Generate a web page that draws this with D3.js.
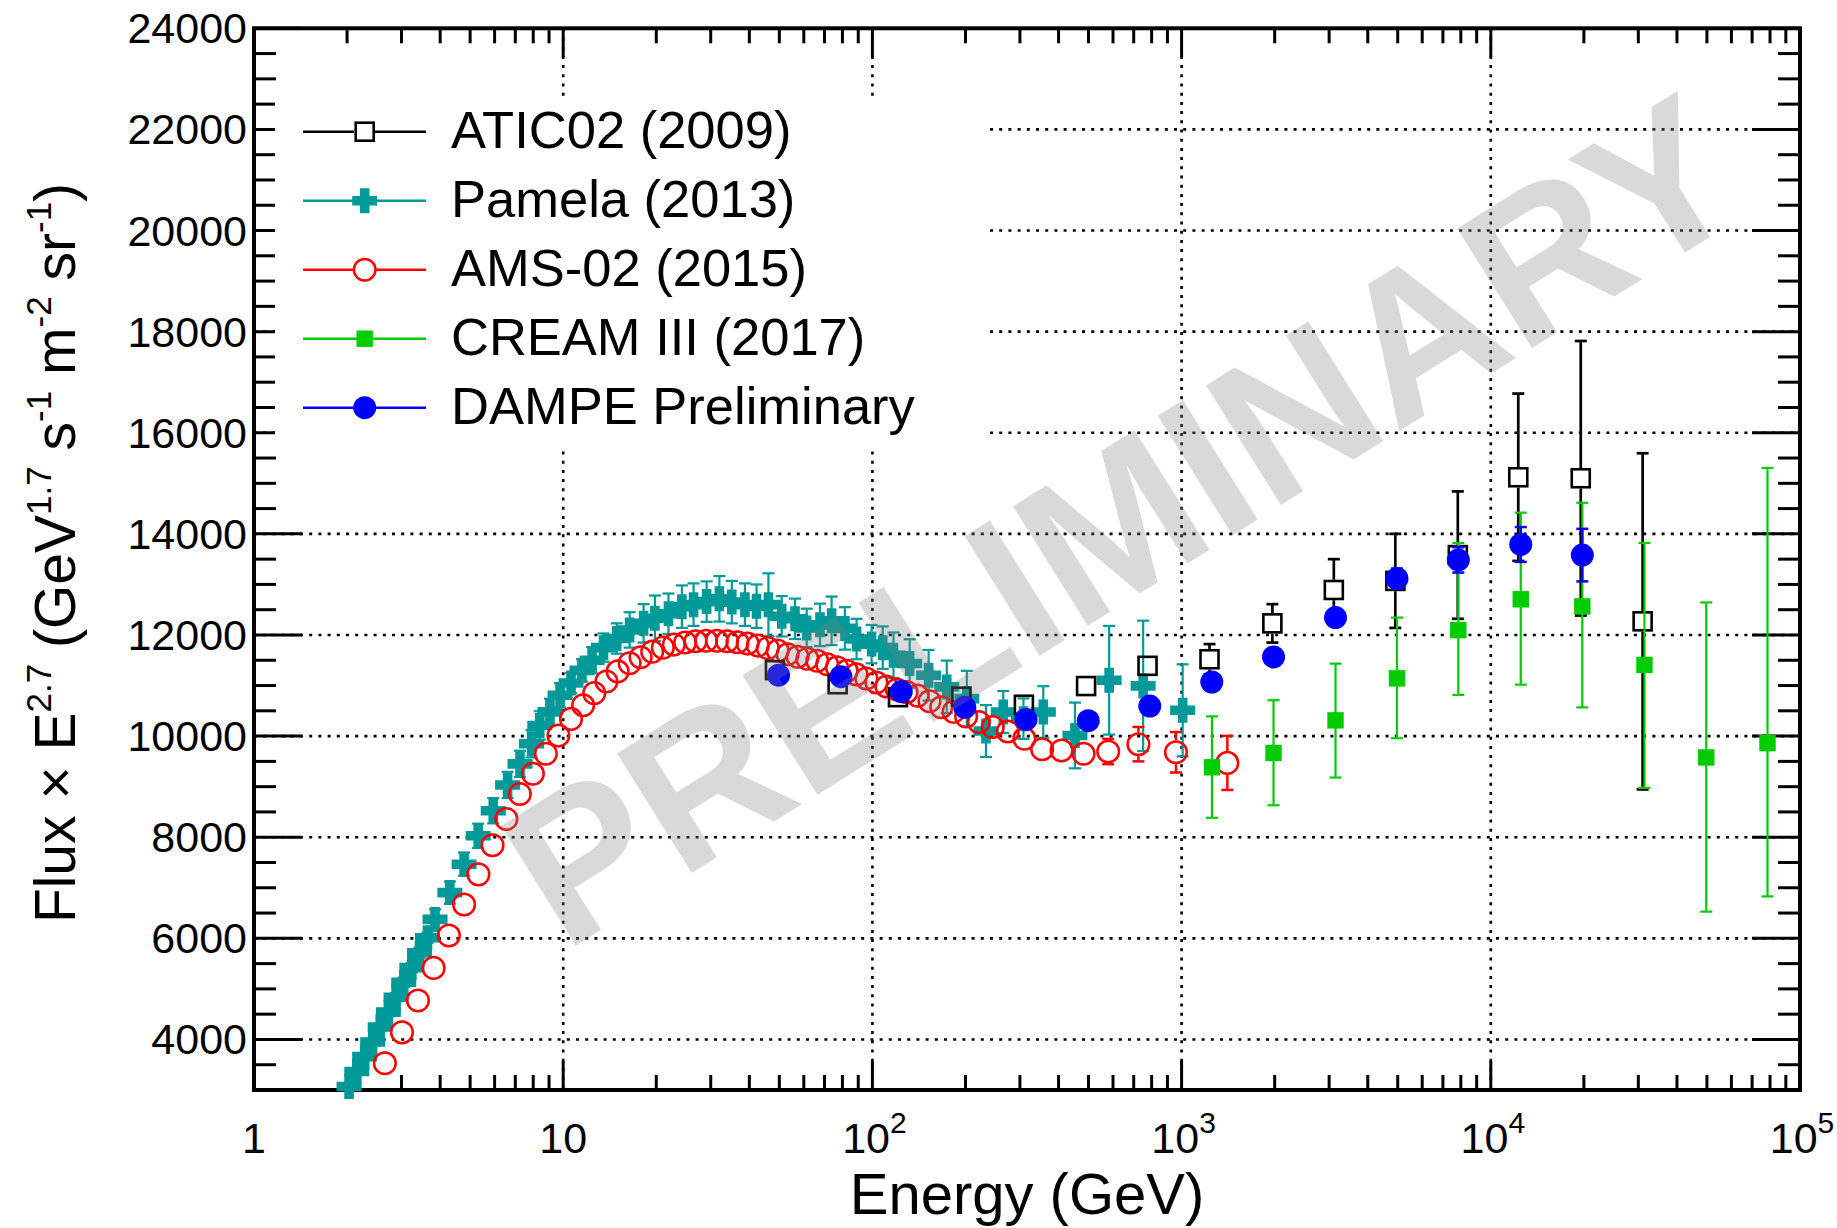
<!DOCTYPE html>
<html>
<head>
<meta charset="utf-8">
<script src="https://cdn.jsdelivr.net/npm/d3@7"></script>
<style>
    body { margin: 0; background: #fff; }
    svg { display: block; font-family: "Liberation Sans", Arial, Helvetica, sans-serif; }
</style>
</head>
<body>
<svg id="chart" width="1837" height="1228"></svg>
<script>
// ---- data (E in GeV, flux x E^2.7) ----
const aticE = [48.4, 77.2, 121, 194, 309, 491, 776, 1231, 1966, 3107, 4912, 7822, 12270, 19540, 30980];
const aticF = [11305, 11026, 10770, 10780, 10620, 10990, 11390, 11520, 12230, 12890, 13070, 13580, 15120, 15100, 12270];
const aticErr = [150, 150, 150, 150, 150, 150, 150, 300, 380, 610, 930, 1260, 1655, 2715, 3325];

const pamelaE = [2.03, 2.15, 2.28, 2.42, 2.56, 2.72, 2.88, 3.05, 3.24, 3.43,
    3.64, 3.85, 4.30, 4.78, 5.31, 5.94, 6.61, 7.25, 7.90, 8.40,
    9.06, 9.77, 10.6, 11.5, 12.4, 13.5, 14.9, 16.4, 18.2, 19.8,
    21.9, 24.2, 26.4, 29.1, 32.0, 35.1, 38.7, 42.2, 46.1, 50.9,
    56.2, 61.3, 67.7, 73.8, 81.5, 88.9, 99.4, 108, 117, 132,
    152, 174, 202, 233, 265, 308, 357, 452, 583, 751, 1008];
const pamelaF = [3070, 3365, 3660, 3950, 4245, 4540, 4835, 5130, 5420, 5715,
    6010, 6374, 6904, 7466, 8028, 8524, 9034, 9451, 9848, 10211,
    10480, 10807, 11050, 11300, 11500, 11750, 11930, 12100, 12230, 12330,
    12420, 12560, 12600, 12660, 12715, 12650, 12600, 12570, 12600, 12370,
    12320, 12140, 12200, 12280, 12130, 11920, 11820, 11750, 11600, 11436,
    11204, 10973, 10741, 10100, 10477, 10345, 10477, 10013, 11105, 10993, 10510];
const pamelaErr = [60, 60, 60, 70, 70, 80, 80, 90, 90, 100,
    100, 200, 220, 230, 240, 250, 260, 260, 270, 280,
    260, 240, 200, 220, 260, 280, 300, 350, 380, 450,
    400, 420, 420, 400, 450, 420, 420, 430, 620, 400,
    400, 380, 420, 480, 420, 400, 380, 420, 450, 480,
    500, 520, 550, 513, 415, 400, 510, 650, 1075, 1290, 910];

const amsE = [2.65, 3.01, 3.39, 3.81, 4.27, 4.78, 5.32, 5.91, 6.55, 7.24,
    7.98, 8.79, 9.65, 10.6, 11.6, 12.6, 13.8, 15.0, 16.4, 17.8,
    19.4, 21.0, 22.8, 24.8, 26.8, 29.0, 31.4, 33.9, 36.6, 39.5,
    42.6, 45.9, 49.4, 53.2, 57.3, 61.6, 66.3, 71.4, 76.8, 82.6,
    88.8, 95.6, 103, 111, 120, 129, 140, 153, 167, 183,
    201, 221, 245, 274, 310, 354, 409, 482, 579, 725, 959, 1406];
const amsF = [3530, 4140, 4770, 5415, 6055, 6670, 7265, 7840, 8360, 8855,
    9255, 9650, 10010, 10340, 10610, 10850, 11080, 11280, 11440, 11560,
    11670, 11750, 11810, 11850, 11875, 11885, 11885, 11875, 11855, 11830,
    11790, 11740, 11690, 11620, 11570, 11530, 11490, 11420, 11360, 11290,
    11220, 11140, 11060, 10980, 10920, 10870, 10800, 10690, 10570, 10480,
    10390, 10280, 10180, 10090, 9950, 9740, 9715, 9650, 9695, 9840, 9680, 9470];
const amsErr = [40, 40, 40, 40, 40, 40, 40, 40, 40, 40,
    40, 40, 40, 40, 40, 40, 40, 40, 40, 40,
    60, 60, 60, 60, 60, 60, 60, 60, 60, 60,
    60, 60, 60, 60, 60, 60, 60, 60, 60, 60,
    60, 60, 60, 60, 60, 100, 100, 100, 100, 100,
    100, 100, 100, 100, 100, 130, 150, 180, 250, 340, 400, 535];

const creamE = [1254, 1983, 3146, 4972, 7852, 12500, 19770, 31400, 49750, 78500];
const creamF = [9383, 9666, 10311, 11142, 12096, 12706, 12565, 11407, 9578, 9860];
const creamLo = [999, 1034, 1131, 1184, 1281, 1688, 1997, 2430, 3050, 3031];
const creamHi = [1007, 1043, 1123, 1202, 1724, 1714, 2050, 2413, 3066, 5444];

const dampeE = [49.7, 79.1, 124, 199, 314, 499, 789, 1252, 1983, 3146, 4972, 7852, 12500, 19770];
const dampeF = [11205, 11175, 10880, 10570, 10330, 10305, 10595, 11070, 11565, 12345, 13115, 13485, 13790, 13580];
const dampeErr = [60, 60, 60, 60, 60, 70, 80, 100, 120, 150, 200, 250, 345, 520];

const legendNames = ["ATIC02 (2009)", "Pamela (2013)", "AMS-02 (2015)", "CREAM III (2017)", "DAMPE Preliminary"];
const yTickValues = [4000, 6000, 8000, 10000, 12000, 14000, 16000, 18000, 20000, 22000, 24000];
const xTickExponents = [0, 1, 2, 3, 4, 5];

// ---- layout ----
const svg = d3.select("#chart");
const plotLeft = 254, plotRight = 1800, plotTop = 28.3, plotBottom = 1090;

const x = d3.scaleLog().domain([1, 1e5]).range([plotLeft, plotRight]);
const y = d3.scaleLinear().domain([3000, 24000]).range([plotBottom, plotTop]);

svg.append("rect").attr("width", 1837).attr("height", 1228).attr("fill", "#fff");

// grid (dotted, at major ticks only)
const grid = svg.append("g").attr("stroke", "#000").attr("stroke-width", 2.6)
    .attr("stroke-dasharray", "3,6.2");
yTickValues.filter(v => v < 24000).forEach(v => {
    grid.append("line").attr("x1", plotLeft).attr("x2", plotRight).attr("y1", y(v)).attr("y2", y(v));
});
[10, 100, 1000, 10000].forEach(v => {
    grid.append("line").attr("x1", x(v)).attr("x2", x(v)).attr("y1", plotTop).attr("y2", plotBottom);
});

// ticks on all four sides, pointing inward
const ticks = svg.append("g").attr("stroke", "#000").attr("stroke-width", 3);
d3.range(3000, 24001, 500).forEach(v => {
    const major = v % 2000 === 0;
    const len = major ? 48 : 22;
    ticks.append("line").attr("x1", plotLeft).attr("x2", plotLeft + len).attr("y1", y(v)).attr("y2", y(v));
    ticks.append("line").attr("x1", plotRight).attr("x2", plotRight - len).attr("y1", y(v)).attr("y2", y(v));
});
xTickExponents.slice(0, 5).forEach(p => {
    for (let m = 1; m <= 9; m++) {
        const v = m * Math.pow(10, p);
        const len = m === 1 ? 29 : 15;
        ticks.append("line").attr("x1", x(v)).attr("x2", x(v)).attr("y1", plotBottom).attr("y2", plotBottom - len);
        ticks.append("line").attr("x1", x(v)).attr("x2", x(v)).attr("y1", plotTop).attr("y2", plotTop + len);
    }
});

// frame
svg.append("rect")
    .attr("x", plotLeft).attr("y", plotTop)
    .attr("width", plotRight - plotLeft).attr("height", plotBottom - plotTop)
    .attr("fill", "none").attr("stroke", "#000").attr("stroke-width", 4);

// tick labels
svg.append("g").selectAll("text")
    .data(yTickValues)
    .enter().append("text")
    .attr("x", 247)
    .attr("y", d => y(d) + 15)
    .attr("text-anchor", "end")
    .attr("font-size", 43)
    .text(d => d);

const xl = svg.append("g");
xTickExponents.forEach(p => {
    const t = xl.append("text")
        .attr("x", x(Math.pow(10, p)) + (p >= 2 ? 2 : 0))
        .attr("y", 1153)
        .attr("text-anchor", "middle")
        .attr("font-size", 43);
    if (p === 0) t.text("1");
    else if (p === 1) t.text("10");
    else {
        t.append("tspan").text("10");
        t.append("tspan").attr("dy", -20).attr("font-size", 30).text(p);
    }
});

// axis titles
svg.append("text")
    .attr("x", (plotLeft + plotRight) / 2)
    .attr("y", 1214)
    .attr("text-anchor", "middle")
    .attr("font-size", 58)
    .text("Energy (GeV)");

const yt = svg.append("text")
    .attr("transform", "translate(75,553) rotate(-90)")
    .attr("text-anchor", "middle")
    .attr("font-size", 57);
[["Flux \u00d7 E", false], ["2.7", true], [" (GeV", false], ["1.7", true], [" s", false], ["-1", true],
    [" m", false], ["-2", true], [" sr", false], ["-1", true], [")", false]].forEach(([s, sup], i, arr) => {
    const prevSup = i > 0 && arr[i - 1][1];
    const ts = yt.append("tspan").text(s);
    if (sup) ts.attr("dy", -24).attr("font-size", 35);
    else if (prevSup) ts.attr("dy", 24);
});

// ---- markers ----
function crossPath(a, t) {
    return `M${-a},${-t}H${-t}V${-a}H${t}V${-t}H${a}V${t}H${t}V${a}H${-t}V${t}H${-a}Z`;
}

function drawMarker(g, kind, color, cx, cy) {
    if (kind === "openSquare") {
        g.append("rect").attr("x", cx - 9).attr("y", cy - 9).attr("width", 18).attr("height", 18)
            .attr("fill", "none").attr("stroke", color).attr("stroke-width", 2.6);
    } else if (kind === "cross") {
        g.append("path").attr("d", crossPath(12.5, 4.8)).attr("transform", `translate(${cx},${cy})`)
            .attr("fill", color);
    } else if (kind === "openCircle") {
        g.append("circle").attr("cx", cx).attr("cy", cy).attr("r", 10.8)
            .attr("fill", "none").attr("stroke", color).attr("stroke-width", 2.5);
    } else if (kind === "fullSquare") {
        g.append("rect").attr("x", cx - 8.2).attr("y", cy - 8.2).attr("width", 16.4).attr("height", 16.4)
            .attr("fill", color);
    } else if (kind === "fullCircle") {
        g.append("circle").attr("cx", cx).attr("cy", cy).attr("r", 11.5).attr("fill", color);
    }
}

function drawSeries(E, F, lo, hi, kind, color, gap, lw) {
    const g = svg.append("g");
    const eb = g.append("g").attr("stroke", color).attr("stroke-width", lw);
    E.forEach((e, i) => {
        const cx = x(e), cy = y(F[i]);
        const yHi = y(F[i] + hi[i]), yLo = y(F[i] - lo[i]);
        if (cy - yHi > gap) {
            eb.append("line").attr("x1", cx).attr("x2", cx).attr("y1", yHi).attr("y2", cy - gap);
            eb.append("line").attr("x1", cx - 6).attr("x2", cx + 6).attr("y1", yHi).attr("y2", yHi);
        }
        if (yLo - cy > gap) {
            eb.append("line").attr("x1", cx).attr("x2", cx).attr("y1", cy + gap).attr("y2", yLo);
            eb.append("line").attr("x1", cx - 6).attr("x2", cx + 6).attr("y1", yLo).attr("y2", yLo);
        }
    });
    E.forEach((e, i) => drawMarker(g, kind, color, x(e), y(F[i])));
}

const styles = [
    { kind: "openSquare", color: "#000000" },
    { kind: "cross", color: "#009999" },
    { kind: "openCircle", color: "#ff0000" },
    { kind: "fullSquare", color: "#00cc00" },
    { kind: "fullCircle", color: "#0000ff" }
];

// legend box (white, no border) hides the grid behind it
svg.append("rect").attr("x", 275).attr("y", 96).attr("width", 715).attr("height", 351).attr("fill", "#fff");
const legend = svg.append("g");
legendNames.forEach((name, i) => {
    const ly = 131.7 + i * 69;
    legend.append("line").attr("x1", 303).attr("x2", 426).attr("y1", ly).attr("y2", ly)
        .attr("stroke", styles[i].color).attr("stroke-width", 2.5);
    if (styles[i].kind === "openSquare" || styles[i].kind === "openCircle") {
        legend.append("rect").attr("x", 354).attr("y", ly - 10).attr("width", 21).attr("height", 20).attr("fill", "#fff");
    }
    drawMarker(legend, styles[i].kind, styles[i].color, 364.7, ly);
    legend.append("text").attr("x", 451).attr("y", ly + 16).attr("font-size", 52.5).text(name);
});

// data, in drawing order
drawSeries(pamelaE, pamelaF, pamelaErr, pamelaErr, "cross", "#009999", 0, 2.2);
drawSeries(amsE, amsF, amsErr, amsErr, "openCircle", "#ff0000", 12, 2.5);
drawSeries(aticE, aticF, aticErr, aticErr, "openSquare", "#000000", 10.3, 2.7);
drawSeries(creamE, creamF, creamLo, creamHi, "fullSquare", "#00cc00", 0, 2.2);
drawSeries(dampeE, dampeF, dampeErr, dampeErr, "fullCircle", "#0000ff", 0, 2.5);

// watermark
svg.append("text")
    .attr("transform", "translate(1122,520) rotate(-32)")
    .attr("text-anchor", "middle")
    .attr("dominant-baseline", "central")
    .attr("font-size", 205)
    .attr("font-weight", "bold")
    .attr("fill", "#808080")
    .attr("fill-opacity", 0.3)
    .text("PRELIMINARY");
</script>
</body>
</html>
